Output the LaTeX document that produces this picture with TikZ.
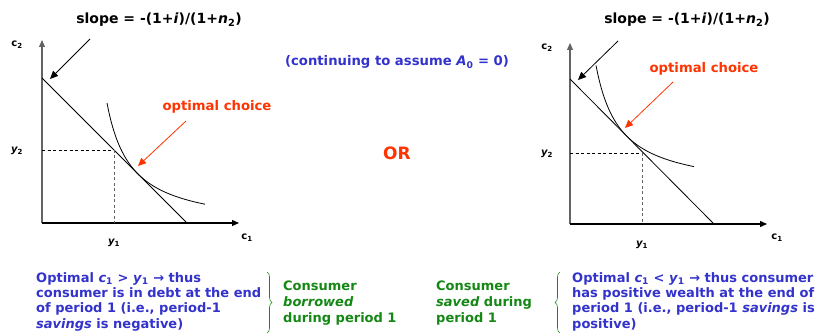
\documentclass[tikz,border=0pt]{standalone}
\usepackage{fontspec}
\setmainfont{DejaVu Sans}
\usetikzlibrary{arrows.meta,decorations.pathreplacing}
\definecolor{tblue}{RGB}{51,51,204}
\definecolor{tgreen}{RGB}{20,135,20}
\definecolor{tred}{RGB}{255,51,0}
\definecolor{axgray}{RGB}{100,100,100}
\begin{document}
\begin{tikzpicture}[x=1pt,y=1pt,
  axis/.style={line width=1.2pt,-{Triangle[length=7pt,width=6pt]}},
  bline/.style={line width=0.8pt,black},
  icurve/.style={line width=0.8pt,black},
  dashes/.style={dashed,line width=0.7pt,dash pattern=on 3pt off 2.5pt},
  slopearr/.style={line width=0.8pt,-{Triangle[length=8pt,width=7pt]}},
  redarr/.style={tred,line width=0.8pt,-{Triangle[length=8pt,width=7pt]}},
  lbl/.style={font=\bfseries\fontsize{10}{11}\selectfont,inner sep=0pt},
  ttl/.style={font=\bfseries\fontsize{14}{16}\selectfont,inner sep=0pt},
  redlbl/.style={font=\bfseries\fontsize{13.2}{15}\selectfont,text=tred,inner sep=0pt},
  bluetxt/.style={font=\bfseries\fontsize{13}{15.4}\selectfont,text=tblue,align=left,anchor=north west,inner sep=0pt},
  greentxt/.style={font=\bfseries\fontsize{13}{16}\selectfont,text=tgreen,align=left,anchor=north west,inner sep=0pt},
  gbrace/.style={tgreen,line width=0.6pt,decorate,decoration={brace,amplitude=5pt}}
]
\useasboundingbox (0,0) rectangle (822,335);

% ---------- left graph ----------
\coordinate (LO) at (42,112);
\coordinate (LYtop) at (42,295);
\coordinate (LXend) at (239,112);
\draw[axis,axgray] (LO) -- (LYtop);
\draw[axis,black] (LO) -- (LXend);
\node[lbl] (lc2) at (17,290) {c$_{\mathbf 2}$};
\node[lbl] (lc1) at (247,97) {c$_{\mathbf 1}$};
\node[lbl] (ly2) at (17,184) {\itshape y$_{\mathbf 2}$};
\node[lbl] (ly1) at (114,92) {\itshape y$_{\mathbf 1}$};
\coordinate (LB1) at (42,257);
\coordinate (LB2) at (186,113);
\draw[bline] (LB1) -- (LB2);
\coordinate (LE) at (114,185);
\coordinate (LEy) at (42,185);
\coordinate (LEx) at (114,112);
\draw[dashes,black] (LEy) -- (LE);
\draw[dashes,axgray] (LE) -- (LEx);
\draw[icurve,shift={(138,161)}] plot[domain=-31:67,samples=60,smooth] (\x,{-55+3025/(\x+55)});
\node[ttl] (lslope) at (159,315) {slope = -(1+\textit{i})/(1+\textit{n}$_{\mathbf 2}$)};
\coordinate (LSa) at (90,296);
\coordinate (LSb) at (50,256);
\draw[slopearr] (LSa) -- (LSb);
\node[redlbl] (lopt) at (217,228) {optimal choice};
\coordinate (LRa) at (186,214);
\coordinate (LRb) at (138,169);
\draw[redarr] (LRa) -- (LRb);

% ---------- right graph ----------
\coordinate (RO) at (570,111);
\coordinate (RYtop) at (570,292);
\coordinate (RXend) at (767,111);
\draw[axis,axgray] (RO) -- (RYtop);
\draw[axis,black] (RO) -- (RXend);
\node[lbl] (rc2) at (547,287) {c$_{\mathbf 2}$};
\node[lbl] (rc1) at (777,97) {c$_{\mathbf 1}$};
\node[lbl] (ry2) at (547,181) {\itshape y$_{\mathbf 2}$};
\node[lbl] (ry1) at (642,90) {\itshape y$_{\mathbf 1}$};
\coordinate (RB1) at (570,256);
\coordinate (RB2) at (713,112);
\draw[bline] (RB1) -- (RB2);
\coordinate (RE) at (642,182);
\coordinate (REy) at (570,182);
\coordinate (REx) at (642,111);
\draw[dashes,black] (REy) -- (RE);
\draw[dashes,axgray] (RE) -- (REx);
\draw[icurve,shift={(627,198.6)}] plot[domain=-31:67,samples=60,smooth] (\x,{-55+3025/(\x+55)});
\node[ttl] (rslope) at (687,315) {slope = -(1+\textit{i})/(1+\textit{n}$_{\mathbf 2}$)};
\coordinate (RSa) at (618,294);
\coordinate (RSb) at (578,255);
\draw[slopearr] (RSa) -- (RSb);
\node[redlbl] (ropt) at (704,266) {optimal choice};
\coordinate (RRa) at (673,253);
\coordinate (RRb) at (625,207);
\draw[redarr] (RRa) -- (RRb);

% ---------- middle ----------
\node[font=\bfseries\fontsize{13.2}{15}\selectfont,text=tblue,inner sep=0pt] (assume) at (397,273) {(continuing to assume \textit{A}$_{\mathbf 0}$ = 0)};
\node[font=\bfseries\fontsize{17}{20}\selectfont,text=tred,inner sep=0pt] (or) at (397,182) {OR};

% ---------- bottom texts ----------
\node[bluetxt] (lblue) at (36,63) {Optimal \textit{c}$_{\mathbf 1}$ > \textit{y}$_{\mathbf 1}$ → thus\\consumer is in debt at the end\\of period 1 (i.e., period-1\\\textit{savings} is negative)};
\coordinate (LBrT) at (267,63);
\coordinate (LBrB) at (267,2);
\draw[gbrace] (LBrT) -- (LBrB);
\node[greentxt] (lgreen) at (283,54.5) {Consumer\\\textit{borrowed}\\during period 1};

\node[greentxt] (rgreen) at (436,54.5) {Consumer\\\textit{saved} during\\period 1};
\coordinate (RBrT) at (560,63);
\coordinate (RBrB) at (560,2);
\draw[gbrace] (RBrB) -- (RBrT);
\node[bluetxt] (rblue) at (572,63) {Optimal \textit{c}$_{\mathbf 1}$ < \textit{y}$_{\mathbf 1}$ → thus consumer\\has positive wealth at the end of\\period 1 (i.e., period-1 \textit{savings} is\\positive)};
\end{tikzpicture}
\end{document}
